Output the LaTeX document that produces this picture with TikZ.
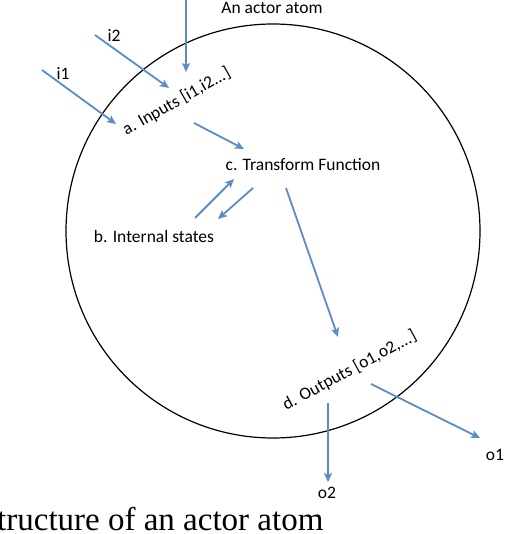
\documentclass[tikz,border=0pt]{standalone}
\usepackage{fontspec}
\setmainfont{Carlito}
\newfontfamily\capfont{Liberation Serif}
\usepackage{tikz}
\usetikzlibrary{arrows.meta,positioning}

\tikzset{
  flow/.style={draw={rgb,255:red,90;green,140;blue,200}, line width=1.8pt,
    -{Stealth[length=9pt,width=8pt,inset=2pt]}},
  lab/.style={font=\fontsize{17.5}{20}\selectfont, inner sep=0pt}
}

\begin{document}
\begin{tikzpicture}[x=1pt,y=-1pt]
\useasboundingbox (0,0) rectangle (506,534);
% the actor atom
\draw[line width=1.2pt] (273,231) circle[radius=207pt];
\node[lab] (title) at (272,8) {An actor atom};

\node[lab, anchor=base, rotate=29.6] (inp) at (179,106) {a. Inputs [i1,i2...]};
\node[lab] (tf) at (303,165) {c. Transform Function};
\node[lab] (st) at (154,236) {b. Internal states};
\node[lab, anchor=base, rotate=28.5] (outp) at (352,375) {d. Outputs [o1,o2,...]};

\node[lab] (i1) at (63,73) {i1};
\node[lab] (i2) at (114,35) {i2};
\node[lab] (o1) at (495,455) {o1};
\node[lab] (o2) at (327,493) {o2};

% arrow ends
\coordinate (top0) at (186,0);
\coordinate (top1) at (186,72);
\coordinate (i1s) at (42,70);
\coordinate (i1e) at (116,124);
\coordinate (i2s) at (95,35);
\coordinate (i2e) at (169,88);
\coordinate (as) at (194,123);
\coordinate (ae) at (244,149);
\coordinate (bs) at (195,218);
\coordinate (be) at (234,179);
\coordinate (cs) at (253,188);
\coordinate (ce) at (218,219);
\coordinate (ds) at (286,188);
\coordinate (de) at (338,337);
\coordinate (o1s) at (371,384);
\coordinate (o1e) at (480,438);
\coordinate (o2s) at (328,403);
\coordinate (o2e) at (328,482);

\draw[flow] (top0) -- (top1);
\draw[flow] (i1s) -- (i1e);
\draw[flow] (i2s) -- (i2e);
\draw[flow] (as) -- (ae);
\draw[flow] (bs) -- (be);
\draw[flow] (cs) -- (ce);
\draw[flow] (ds) -- (de);
\draw[flow] (o1s) -- (o1e);
\draw[flow] (o2s) -- (o2e);

\node[anchor=base west, inner sep=0pt, font=\capfont\fontsize{33}{38}\selectfont] (cap) at (-3,530) {tructure of an actor atom};
\end{tikzpicture}
\end{document}
